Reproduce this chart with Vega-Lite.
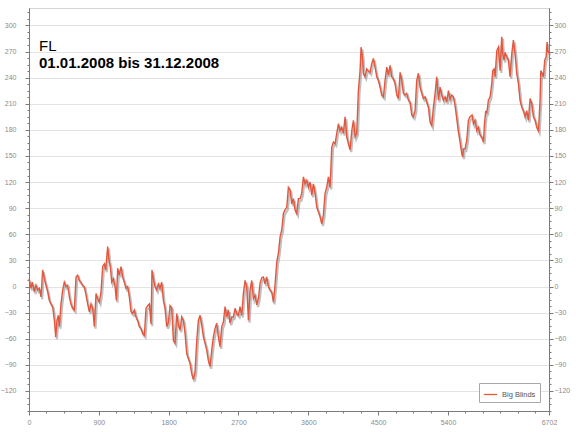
{
  "$schema": "https://vega.github.io/schema/vega-lite/v6.json",
  "width": 520,
  "height": 403,
  "autosize": {"type": "none"},
  "padding": {"left": 29, "top": 8, "right": 27, "bottom": 21},
  "background": "white",
  "title": {
    "text": "FL",
    "subtitle": "01.01.2008 bis 31.12.2008",
    "anchor": "start",
    "frame": "group",
    "orient": "top",
    "offset": -63,
    "dx": 10,
    "font": "Liberation Sans",
    "fontSize": 15,
    "fontWeight": "normal",
    "color": "#000000",
    "subtitleFont": "Liberation Sans",
    "subtitleFontSize": 15,
    "subtitleFontWeight": "bold",
    "subtitleColor": "#000000",
    "subtitlePadding": 2
  },
  "data": {
    "values": [
      {"hand": 0, "bb": 9}, {"hand": 26, "bb": -2}, {"hand": 43, "bb": 5}, {"hand": 69, "bb": -6}, {"hand": 90, "bb": 1.5},
      {"hand": 112, "bb": -4}, {"hand": 133, "bb": -2}, {"hand": 155, "bb": -12}, {"hand": 176, "bb": 19}, {"hand": 198, "bb": 9},
      {"hand": 219, "bb": 1.5}, {"hand": 241, "bb": -6}, {"hand": 262, "bb": -16}, {"hand": 284, "bb": -20}, {"hand": 305, "bb": -23},
      {"hand": 327, "bb": -39}, {"hand": 344, "bb": -58}, {"hand": 361, "bb": -39}, {"hand": 378, "bb": -33}, {"hand": 391, "bb": -46},
      {"hand": 412, "bb": -20}, {"hand": 434, "bb": -4}, {"hand": 455, "bb": 5}, {"hand": 477, "bb": 0}, {"hand": 498, "bb": 1.5},
      {"hand": 520, "bb": -12}, {"hand": 541, "bb": -20}, {"hand": 563, "bb": -25}, {"hand": 584, "bb": -27}, {"hand": 606, "bb": 11},
      {"hand": 627, "bb": 13}, {"hand": 649, "bb": 7}, {"hand": 670, "bb": 5}, {"hand": 692, "bb": 1.5}, {"hand": 713, "bb": 0},
      {"hand": 735, "bb": -10}, {"hand": 756, "bb": -20}, {"hand": 778, "bb": -29}, {"hand": 799, "bb": -20}, {"hand": 821, "bb": -25},
      {"hand": 842, "bb": -46}, {"hand": 864, "bb": -8}, {"hand": 885, "bb": -14}, {"hand": 907, "bb": -18}, {"hand": 928, "bb": -6},
      {"hand": 950, "bb": 23}, {"hand": 971, "bb": 26}, {"hand": 988, "bb": 19}, {"hand": 1014, "bb": 46}, {"hand": 1031, "bb": 30},
      {"hand": 1048, "bb": 23}, {"hand": 1066, "bb": 5}, {"hand": 1087, "bb": 9}, {"hand": 1109, "bb": 0}, {"hand": 1126, "bb": -16},
      {"hand": 1143, "bb": 21}, {"hand": 1164, "bb": 13}, {"hand": 1186, "bb": 23}, {"hand": 1207, "bb": 11}, {"hand": 1229, "bb": 5},
      {"hand": 1250, "bb": -2}, {"hand": 1272, "bb": 0}, {"hand": 1293, "bb": -12}, {"hand": 1315, "bb": -29}, {"hand": 1336, "bb": -31},
      {"hand": 1358, "bb": -27}, {"hand": 1379, "bb": -35}, {"hand": 1401, "bb": -39}, {"hand": 1422, "bb": -46}, {"hand": 1444, "bb": -48},
      {"hand": 1465, "bb": -54}, {"hand": 1487, "bb": -56}, {"hand": 1508, "bb": -25}, {"hand": 1530, "bb": -22}, {"hand": 1551, "bb": -20},
      {"hand": 1573, "bb": -43}, {"hand": 1585, "bb": 19}, {"hand": 1603, "bb": 9}, {"hand": 1624, "bb": 0}, {"hand": 1646, "bb": -4},
      {"hand": 1667, "bb": 3}, {"hand": 1689, "bb": -2}, {"hand": 1710, "bb": 5}, {"hand": 1732, "bb": -16}, {"hand": 1753, "bb": -25},
      {"hand": 1775, "bb": -46}, {"hand": 1796, "bb": -41}, {"hand": 1818, "bb": -22}, {"hand": 1839, "bb": -24}, {"hand": 1861, "bb": -62},
      {"hand": 1882, "bb": -65}, {"hand": 1904, "bb": -31}, {"hand": 1925, "bb": -44}, {"hand": 1947, "bb": -50}, {"hand": 1968, "bb": -35},
      {"hand": 1990, "bb": -39}, {"hand": 2011, "bb": -54}, {"hand": 2033, "bb": -77}, {"hand": 2054, "bb": -83}, {"hand": 2076, "bb": -88},
      {"hand": 2097, "bb": -100}, {"hand": 2119, "bb": -107}, {"hand": 2140, "bb": -98}, {"hand": 2162, "bb": -62}, {"hand": 2183, "bb": -39},
      {"hand": 2205, "bb": -33}, {"hand": 2226, "bb": -44}, {"hand": 2248, "bb": -58}, {"hand": 2269, "bb": -65}, {"hand": 2291, "bb": -73},
      {"hand": 2312, "bb": -85}, {"hand": 2333, "bb": -92}, {"hand": 2355, "bb": -73}, {"hand": 2376, "bb": -58}, {"hand": 2398, "bb": -48},
      {"hand": 2419, "bb": -42}, {"hand": 2441, "bb": -58}, {"hand": 2462, "bb": -69}, {"hand": 2484, "bb": -46}, {"hand": 2505, "bb": -41},
      {"hand": 2527, "bb": -23}, {"hand": 2548, "bb": -35}, {"hand": 2570, "bb": -27}, {"hand": 2591, "bb": -42}, {"hand": 2613, "bb": -35},
      {"hand": 2634, "bb": -35}, {"hand": 2656, "bb": -25}, {"hand": 2677, "bb": -31}, {"hand": 2699, "bb": -33}, {"hand": 2720, "bb": -23},
      {"hand": 2742, "bb": -33}, {"hand": 2763, "bb": -8}, {"hand": 2785, "bb": 7}, {"hand": 2806, "bb": 0}, {"hand": 2828, "bb": -39},
      {"hand": 2849, "bb": -4}, {"hand": 2871, "bb": 7}, {"hand": 2892, "bb": -14}, {"hand": 2914, "bb": -10}, {"hand": 2935, "bb": -21},
      {"hand": 2957, "bb": -14}, {"hand": 2978, "bb": 4}, {"hand": 3000, "bb": 10}, {"hand": 3021, "bb": 11}, {"hand": 3042, "bb": 3},
      {"hand": 3064, "bb": 11}, {"hand": 3085, "bb": 0}, {"hand": 3107, "bb": -4}, {"hand": 3128, "bb": -6}, {"hand": 3150, "bb": -18},
      {"hand": 3171, "bb": 2}, {"hand": 3193, "bb": 28}, {"hand": 3214, "bb": 38}, {"hand": 3236, "bb": 57}, {"hand": 3257, "bb": 65},
      {"hand": 3279, "bb": 84}, {"hand": 3300, "bb": 88}, {"hand": 3322, "bb": 91}, {"hand": 3343, "bb": 114}, {"hand": 3365, "bb": 111},
      {"hand": 3386, "bb": 95}, {"hand": 3408, "bb": 101}, {"hand": 3429, "bb": 88}, {"hand": 3451, "bb": 84}, {"hand": 3472, "bb": 101},
      {"hand": 3494, "bb": 101}, {"hand": 3515, "bb": 107}, {"hand": 3537, "bb": 126}, {"hand": 3558, "bb": 118}, {"hand": 3580, "bb": 122},
      {"hand": 3601, "bb": 114}, {"hand": 3623, "bb": 120}, {"hand": 3644, "bb": 105}, {"hand": 3666, "bb": 118}, {"hand": 3687, "bb": 107},
      {"hand": 3709, "bb": 91}, {"hand": 3730, "bb": 86}, {"hand": 3752, "bb": 80}, {"hand": 3773, "bb": 72}, {"hand": 3794, "bb": 82},
      {"hand": 3816, "bb": 107}, {"hand": 3837, "bb": 114}, {"hand": 3859, "bb": 126}, {"hand": 3880, "bb": 114}, {"hand": 3902, "bb": 160},
      {"hand": 3923, "bb": 166}, {"hand": 3945, "bb": 164}, {"hand": 3966, "bb": 176}, {"hand": 3988, "bb": 187}, {"hand": 4009, "bb": 179},
      {"hand": 4031, "bb": 183}, {"hand": 4052, "bb": 176}, {"hand": 4074, "bb": 195}, {"hand": 4095, "bb": 172}, {"hand": 4117, "bb": 164},
      {"hand": 4138, "bb": 157}, {"hand": 4160, "bb": 179}, {"hand": 4181, "bb": 191}, {"hand": 4203, "bb": 172}, {"hand": 4224, "bb": 176},
      {"hand": 4245, "bb": 225}, {"hand": 4267, "bb": 248}, {"hand": 4280, "bb": 275}, {"hand": 4297, "bb": 264}, {"hand": 4310, "bb": 245},
      {"hand": 4331, "bb": 241}, {"hand": 4353, "bb": 250}, {"hand": 4374, "bb": 248}, {"hand": 4396, "bb": 246}, {"hand": 4417, "bb": 256},
      {"hand": 4439, "bb": 262}, {"hand": 4460, "bb": 252}, {"hand": 4482, "bb": 241}, {"hand": 4503, "bb": 237}, {"hand": 4525, "bb": 229},
      {"hand": 4546, "bb": 220}, {"hand": 4568, "bb": 218}, {"hand": 4589, "bb": 237}, {"hand": 4611, "bb": 252}, {"hand": 4632, "bb": 243},
      {"hand": 4654, "bb": 254}, {"hand": 4675, "bb": 241}, {"hand": 4697, "bb": 239}, {"hand": 4718, "bb": 233}, {"hand": 4740, "bb": 220},
      {"hand": 4761, "bb": 216}, {"hand": 4783, "bb": 246}, {"hand": 4804, "bb": 237}, {"hand": 4825, "bb": 222}, {"hand": 4847, "bb": 220},
      {"hand": 4868, "bb": 222}, {"hand": 4890, "bb": 214}, {"hand": 4911, "bb": 212}, {"hand": 4933, "bb": 197}, {"hand": 4954, "bb": 195},
      {"hand": 4976, "bb": 202}, {"hand": 4997, "bb": 237}, {"hand": 5019, "bb": 245}, {"hand": 5040, "bb": 229}, {"hand": 5062, "bb": 222},
      {"hand": 5083, "bb": 216}, {"hand": 5105, "bb": 218}, {"hand": 5126, "bb": 212}, {"hand": 5148, "bb": 206}, {"hand": 5169, "bb": 189},
      {"hand": 5191, "bb": 185}, {"hand": 5212, "bb": 206}, {"hand": 5234, "bb": 222}, {"hand": 5255, "bb": 241}, {"hand": 5277, "bb": 214},
      {"hand": 5298, "bb": 229}, {"hand": 5320, "bb": 220}, {"hand": 5341, "bb": 214}, {"hand": 5363, "bb": 218}, {"hand": 5384, "bb": 212},
      {"hand": 5406, "bb": 225}, {"hand": 5427, "bb": 215}, {"hand": 5448, "bb": 220}, {"hand": 5470, "bb": 218}, {"hand": 5491, "bb": 208},
      {"hand": 5513, "bb": 193}, {"hand": 5534, "bb": 178}, {"hand": 5556, "bb": 166}, {"hand": 5577, "bb": 153}, {"hand": 5590, "bb": 149},
      {"hand": 5599, "bb": 158}, {"hand": 5620, "bb": 158}, {"hand": 5642, "bb": 168}, {"hand": 5663, "bb": 191}, {"hand": 5685, "bb": 195},
      {"hand": 5711, "bb": 197}, {"hand": 5728, "bb": 187}, {"hand": 5749, "bb": 191}, {"hand": 5771, "bb": 179}, {"hand": 5792, "bb": 183},
      {"hand": 5814, "bb": 174}, {"hand": 5835, "bb": 172}, {"hand": 5857, "bb": 166}, {"hand": 5870, "bb": 187}, {"hand": 5887, "bb": 202},
      {"hand": 5900, "bb": 199}, {"hand": 5921, "bb": 214}, {"hand": 5943, "bb": 218}, {"hand": 5964, "bb": 233}, {"hand": 5977, "bb": 248},
      {"hand": 5994, "bb": 250}, {"hand": 6007, "bb": 241}, {"hand": 6029, "bb": 271}, {"hand": 6050, "bb": 275}, {"hand": 6072, "bb": 248},
      {"hand": 6093, "bb": 287}, {"hand": 6106, "bb": 267}, {"hand": 6123, "bb": 260}, {"hand": 6136, "bb": 269}, {"hand": 6158, "bb": 264},
      {"hand": 6179, "bb": 260}, {"hand": 6200, "bb": 241}, {"hand": 6222, "bb": 267}, {"hand": 6243, "bb": 283}, {"hand": 6265, "bb": 267},
      {"hand": 6286, "bb": 245}, {"hand": 6308, "bb": 233}, {"hand": 6329, "bb": 214}, {"hand": 6351, "bb": 206}, {"hand": 6372, "bb": 202},
      {"hand": 6394, "bb": 195}, {"hand": 6415, "bb": 202}, {"hand": 6437, "bb": 191}, {"hand": 6458, "bb": 216}, {"hand": 6480, "bb": 210},
      {"hand": 6501, "bb": 195}, {"hand": 6523, "bb": 191}, {"hand": 6544, "bb": 183}, {"hand": 6566, "bb": 179}, {"hand": 6587, "bb": 214},
      {"hand": 6596, "bb": 248}, {"hand": 6613, "bb": 245}, {"hand": 6630, "bb": 241}, {"hand": 6647, "bb": 260}, {"hand": 6665, "bb": 264},
      {"hand": 6677, "bb": 281}, {"hand": 6686, "bb": 271}, {"hand": 6702, "bb": 268}
    ]
  },
  "encoding": {
    "x": {"field": "hand", "type": "quantitative", "scale": {"domain": [0, 6702], "nice": false, "zero": false}},
    "y": {"field": "bb", "type": "quantitative", "scale": {"domain": [-143, 320], "nice": false, "zero": false}}
  },
  "resolve": {"axis": {"x": "independent", "y": "independent"}},
  "layer": [
    {
      "mark": {"type": "line", "color": "#8c8c8c", "strokeWidth": 2.2, "opacity": 0.55, "xOffset": 1.2, "yOffset": 2.2},
      "encoding": {
        "x": {"field": "hand", "type": "quantitative", "axis": {"orient": "bottom", "title": null, "labels": false, "grid": false, "tickSize": 2,
          "values": [0,225,450,675,900,1125,1350,1575,1800,2025,2250,2475,2700,2925,3150,3375,3600,3825,4050,4275,4500,4725,4950,5175,5400,5625,5850,6075,6300,6525]}},
        "y": {"field": "bb", "type": "quantitative", "axis": {"orient": "left", "title": null, "labels": false, "grid": false, "tickSize": 2,
          "values": [-142.5,-135,-127.5,-120,-112.5,-105,-97.5,-90,-82.5,-75,-67.5,-60,-52.5,-45,-37.5,-30,-22.5,-15,-7.5,0,7.5,15,22.5,30,37.5,45,52.5,60,67.5,75,82.5,90,97.5,105,112.5,120,127.5,135,142.5,150,157.5,165,172.5,180,187.5,195,202.5,210,217.5,225,232.5,240,247.5,255,262.5,270,277.5,285,292.5,300,307.5,315]}}
      }
    },
    {
      "mark": {"type": "line", "strokeWidth": 1.4},
      "encoding": {
        "x": {"field": "hand", "type": "quantitative", "axis": {"orient": "bottom", "title": null, "grid": false, "tickSize": 4, "labelPadding": 3, "format": "d",
          "values": [0, 900, 1800, 2700, 3600, 4500, 5400, 6702], "labelFlush": false}},
        "y": {"field": "bb", "type": "quantitative", "axis": {"orient": "left", "title": null, "grid": true, "tickSize": 4, "labelPadding": 9, "format": "d",
          "values": [-120, -90, -60, -30, 0, 30, 60, 90, 120, 150, 180, 210, 240, 270, 300]}},
        "color": {
          "datum": "Big Blinds",
          "scale": {"range": ["#e4573d"]},
          "legend": {
            "orient": "bottom-right",
            "offset": 9,
            "title": null,
            "symbolType": "stroke",
            "symbolSize": 180,
            "symbolStrokeWidth": 1.3,
            "strokeColor": "#a8a8a8",
            "fillColor": "#ffffff",
            "padding": 4,
            "labelFont": "Liberation Sans",
            "labelFontSize": 7.5,
            "labelColor": "#555555"
          }
        }
      }
    },
    {
      "mark": {"type": "line", "opacity": 0},
      "encoding": {
        "x": {"field": "hand", "type": "quantitative", "axis": null},
        "y": {"field": "bb", "type": "quantitative", "axis": {"orient": "right", "title": null, "grid": false, "tickSize": 4, "labelPadding": 1, "format": "d",
          "values": [-120, -90, -60, -30, 0, 30, 60, 90, 120, 150, 180, 210, 240, 270, 300]}}
      }
    },
    {
      "mark": {"type": "line", "opacity": 0},
      "encoding": {
        "x": {"field": "hand", "type": "quantitative", "axis": null},
        "y": {"field": "bb", "type": "quantitative", "axis": {"orient": "right", "title": null, "labels": false, "grid": false, "tickSize": 2,
          "values": [-142.5,-135,-127.5,-120,-112.5,-105,-97.5,-90,-82.5,-75,-67.5,-60,-52.5,-45,-37.5,-30,-22.5,-15,-7.5,0,7.5,15,22.5,30,37.5,45,52.5,60,67.5,75,82.5,90,97.5,105,112.5,120,127.5,135,142.5,150,157.5,165,172.5,180,187.5,195,202.5,210,217.5,225,232.5,240,247.5,255,262.5,270,277.5,285,292.5,300,307.5,315]}}
      }
    }
  ],
  "config": {
    "view": {"stroke": "#d4d4d4"},
    "axis": {
      "domainColor": "#7a7a7a",
      "tickColor": "#7a7a7a",
      "labelColor": "#8a8a8a",
      "labelFont": "Liberation Sans",
      "labelFontSize": 7,
      "gridColor": "#e3e3e3",
      "gridWidth": 1
    }
  }
}
